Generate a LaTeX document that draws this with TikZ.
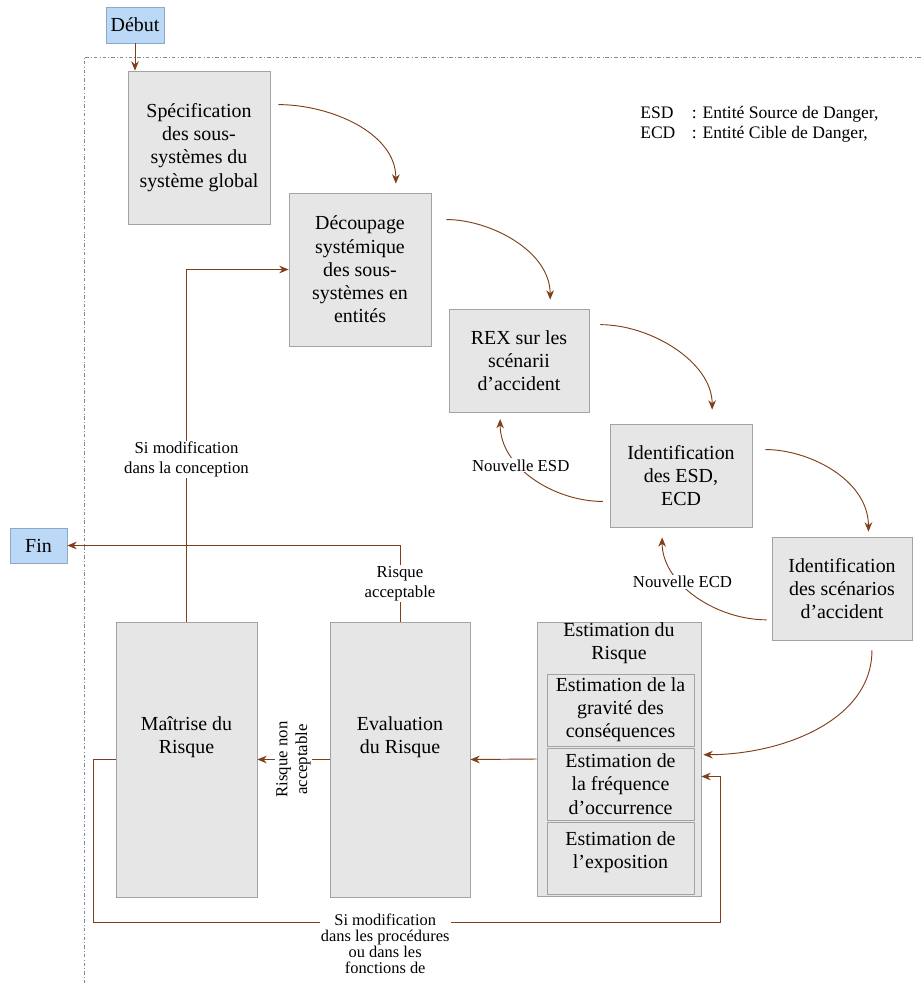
\documentclass[tikz,border=0pt]{standalone}
\usepackage{fontspec}
\setmainfont{Liberation Serif}
\usetikzlibrary{positioning,arrows,arrows.meta}
\tikzset{>={Stealth[length=8pt,width=6.5pt]}}

\definecolor{brun}{HTML}{7F3F1A}
\definecolor{grisfond}{HTML}{E6E6E6}
\definecolor{grisbord}{HTML}{A3A3A3}
\definecolor{bleufond}{HTML}{BBD8F6}
\definecolor{bleubord}{HTML}{8EA8C8}
\definecolor{cadre}{HTML}{7E8C9C}

\newcommand{\policeboite}{\fontsize{17}{19.8}\selectfont}
\newcommand{\policeetiq}{\fontsize{14.3}{17}\selectfont}
\newcommand{\policebas}{\fontsize{14}{13.6}\selectfont}
\newcommand{\policelegende}{\fontsize{15}{17}\selectfont}

\begin{document}
\begin{tikzpicture}[x=0.03cm,y=0.03cm,->,semithick]
      \tikzstyle{etape}=[draw=grisbord,fill=grisfond,align=center,font=\policeboite,inner sep=1pt]
      \tikzstyle{borne}=[draw=bleubord,fill=bleufond,font=\policeboite,minimum width=1.74cm,minimum height=1.08cm]
      \tikzstyle{texte}=[align=center,font=\policeboite]
      \tikzstyle{etiq}=[fill=white,align=center,font=\policeetiq,inner sep=1pt]
      \tikzstyle{lien}=[draw=brun,thick]

      \path[use as bounding box] (0,0) rectangle (921,-984);
      \draw[-,cadre,thin,dash dot] (921,-57) -- (84,-57) -- (84,-984);

      \node[borne]     (debut)     []                                        at (135,-25)     {Début};
      \node[borne]     (fin)       [minimum width=1.71cm,minimum height=1.05cm] at (38.5,-545.5) {Fin};
      \node[etape]     (spec)      [minimum width=4.26cm,minimum height=4.59cm] at (199,-147.5)  {Spécification\\des sous-\\systèmes du\\système global};
      \node[etape]     (decoupage) [minimum width=4.26cm,minimum height=4.59cm] at (360,-269.5)  {Découpage\\systémique\\des sous-\\systèmes en\\entités};
      \node[etape]     (rex)       [minimum width=4.2cm,minimum height=3.09cm]  at (519,-360.5)  {REX sur les\\scénarii\\d’accident};
      \node[etape]     (esd)       [minimum width=4.26cm,minimum height=3.09cm] at (681,-475.5)  {Identification\\des ESD,\\ECD};
      \node[etape]     (scen)      [minimum width=4.2cm,minimum height=3.09cm]  at (842,-588.5)  {Identification\\des scénarios\\d’accident};

      \node[etape]     (estim)     [minimum width=4.92cm,minimum height=8.22cm] at (619,-759)    {};
      \node[texte]     (estimtitre) []                                        at (619,-643)    {Estimation du\\Risque};
      \node[etape]     (gravite)   [minimum width=4.41cm,minimum height=2.16cm] at (620.5,-710)  {Estimation de la\\gravité des\\conséquences};
      \node[etape]     (frequence) [minimum width=4.41cm,minimum height=2.16cm] at (620.5,-784)  {Estimation de\\la fréquence\\d’occurrence};
      \node[etape]     (exposition)[minimum width=4.41cm,minimum height=2.16cm] at (620.5,-858)  {};
      \node[texte]     (expotexte) []                                         at (620.5,-852)  {Estimation de\\l’exposition};

      \node[etape]     (eval)      [minimum width=4.2cm,minimum height=8.25cm]  at (400,-759.5)  {};
      \node[texte]     (evaltexte) []                                         at (400,-737)    {Evaluation\\du Risque};
      \node[etape]     (maitrise)  [minimum width=4.23cm,minimum height=8.25cm] at (186.5,-759.5) {};
      \node[texte]     (maitrisetexte) []                                     at (186.5,-737)  {Maîtrise du\\Risque};

      \node[font=\policelegende,anchor=north west] (legende) at (636,-100)
           {\begin{tabular}{@{}l@{\hspace{14pt}}l@{}}ESD & : Entité Source de Danger,\\ECD & : Entité Cible de Danger,\end{tabular}};

      \coordinate (retourG) at (93,-922);
      \coordinate (retourD) at (720,-922);

      \path (debut.south)   edge [lien]                                                  (debut.south |- spec.north)
            (spec.31)       edge [lien,out=0,in=90,shorten <=0.24cm,shorten >=0.27cm]    (decoupage.65)
            (decoupage.35)  edge [lien,out=0,in=90,shorten <=0.45cm,shorten >=0.27cm]    (rex.59)
            (rex.27)        edge [lien,out=0,in=90,shorten <=0.33cm,shorten >=0.42cm]    (esd.59)
            (esd.20)        edge [lien,out=0,in=90,shorten <=0.39cm,shorten >=0.15cm]    (scen.63)
            (scen.-60)      edge [lien,out=-90,in=0,shorten <=0.3cm,shorten >=0.06cm]    (estim.3)
            (esd.200)       edge [lien,out=180,in=-90,shorten <=0.2cm,shorten >=0.2cm]
                                 node[etiq,pos=0.62] {Nouvelle ESD}                      (rex.250)
            (scen.204)      edge [lien,out=180,in=-90,shorten <=0.15cm,shorten >=0.3cm]
                                 node[etiq,pos=0.62] {Nouvelle ECD}                      (esd.250)
            (estim.west)    edge [lien]                                                  (eval.east)
            (eval.west)     edge [lien] node[etiq,rotate=90] {Risque non\\acceptable}    (maitrise.east)
            ;

      \draw[lien] (eval.north) -- node[etiq] {Risque\\acceptable} (eval.north |- fin.east) -- (fin.east);
      \draw[lien] (maitrise.north) |- node[etiq,pos=0.23] {Si modification\\dans la conception} (decoupage.west);
      \draw[lien] (maitrise.west) -| (retourG)
                  -- node[etiq,font=\policebas,anchor=north,yshift=0.3cm,pos=0.466] {Si modification\\dans les procédures\\ou dans les\\fonctions de}
                  (retourD) |- (estim.-12);
\end{tikzpicture}
\end{document}
